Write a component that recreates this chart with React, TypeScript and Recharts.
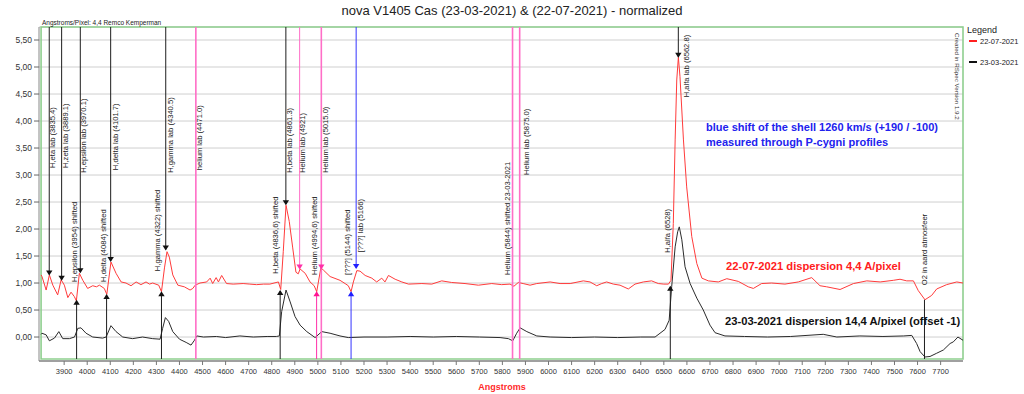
import React from 'react';
import {
  LineChart,
  Line,
  XAxis,
  YAxis,
  CartesianGrid,
  ReferenceLine,
  ReferenceDot,
  ReferenceArea,
} from 'recharts';

// ---------- data ----------
const RED_WL = [
  3800, 3804, 3822, 3836, 3851, 3872, 3887, 3901, 3916, 3930, 3944, 3953, 3966, 3981, 4002, 4024, 4040, 4053,
  4074, 4085, 4103, 4125, 4147, 4168, 4190, 4212, 4233, 4255, 4270, 4284, 4310, 4322, 4335, 4346, 4356, 4371,
  4393, 4421, 4446, 4458, 4468, 4489, 4518, 4533, 4544, 4559, 4569, 4583, 4604, 4633, 4676, 4705, 4734, 4765,
  4792, 4829, 4839, 4850, 4862, 4876, 4891, 4905, 4915, 4923, 4945, 4966, 4984, 4995, 5013, 5024, 5053, 5096,
  5118, 5132, 5144, 5154, 5169, 5183, 5205, 5234, 5255, 5277, 5291, 5306, 5335, 5364, 5393, 5451, 5494, 5537,
  5580, 5638, 5696, 5754, 5797, 5833, 5850, 5869, 5890, 5920, 5949, 6007, 6050, 6094, 6151, 6180, 6209, 6231,
  6252, 6281, 6310, 6346, 6375, 6411, 6447, 6476, 6500, 6520, 6531, 6541, 6549, 6556, 6563, 6570, 6585, 6599,
  6621, 6643, 6665, 6693, 6736, 6773, 6823, 6866, 6888, 6924, 6967, 7025, 7083, 7141, 7177, 7206, 7264, 7322,
  7380, 7438, 7495, 7524, 7553, 7582, 7603, 7632, 7661, 7683, 7726, 7770, 7797,
];
const RED_VAL = [
  1.15, 1.12, 0.87, 1.15, 0.96, 0.78, 1.06, 0.96, 0.73, 0.83, 0.75, 0.67, 1.18, 1.05, 0.9, 0.95, 0.93, 0.96,
  0.9, 0.79, 1.39, 1.18, 1.02, 1.0, 0.95, 1.02, 0.97, 1.02, 0.98, 1.0, 0.96, 0.84, 1.28, 1.58, 1.48, 1.15,
  0.96, 0.93, 0.87, 0.9, 0.96, 1.0, 1.02, 1.09, 0.99, 1.1, 1.02, 1.14, 0.99, 0.98, 0.99, 0.98, 0.97, 0.98,
  0.98, 1.02, 0.88, 1.58, 2.44, 2.14, 1.65, 1.2, 1.17, 1.26, 1.18, 1.02, 0.95, 0.84, 1.28, 1.24, 1.12, 1.05,
  0.99, 0.95, 0.84, 1.02, 1.23, 1.22, 1.14, 1.09, 1.02, 1.09, 1.02, 1.14, 1.07, 1.02, 0.98, 0.99, 0.98, 1.04,
  1.01, 0.99, 0.96, 0.99, 0.97, 0.98, 0.94, 1.01, 0.99, 0.96, 0.99, 1.02, 0.99, 0.99, 1.04, 1.02, 0.95, 0.99,
  1.02, 0.98, 0.96, 0.89, 0.98, 1.02, 1.04, 0.99, 0.98, 0.98, 1.05, 2.1, 3.65, 4.76, 5.18, 4.82, 3.65, 2.78,
  1.86, 1.36, 1.09, 1.04, 1.02, 1.08, 1.03, 0.93, 0.9, 0.99, 1.0, 0.98, 1.02, 1.1, 0.95, 0.93, 0.88, 0.99,
  1.04, 1.02, 1.05, 1.07, 1.04, 1.04, 0.86, 0.69, 0.77, 0.89, 0.97, 1.02, 1.0,
];

const BLACK_WL = [
  3800, 3804, 3822, 3836, 3858, 3877, 3894, 3923, 3945, 3959, 3973, 3995, 4024, 4067, 4082, 4103, 4125, 4154,
  4197, 4240, 4284, 4316, 4327, 4339, 4353, 4371, 4400, 4429, 4450, 4465, 4475, 4504, 4560, 4600, 4662, 4720,
  4780, 4820, 4833, 4843, 4862, 4880, 4901, 4923, 4952, 4988, 5017, 5053, 5096, 5132, 5200, 5300, 5400, 5500,
  5600, 5700, 5790, 5826, 5845, 5862, 5877, 5906, 5949, 6007, 6100, 6200, 6300, 6400, 6462, 6505, 6523, 6534,
  6549, 6560, 6567, 6578, 6592, 6614, 6643, 6671, 6700, 6722, 6765, 6850, 6950, 7050, 7191, 7250, 7350, 7450,
  7540, 7575, 7596, 7611, 7632, 7654, 7683, 7712, 7741, 7755, 7775, 7797,
];
const BLACK_VAL = [
  0.05, 0.07, 0.04, -0.07, -0.02, 0.1, -0.03, -0.03, 0.0, 0.16, 0.17, 0.07, 0.0, -0.02, 0.0, 0.21, 0.1, 0.0,
  -0.03, 0.0, -0.03, -0.04, 0.16, 0.36, 0.29, 0.1, -0.04, -0.1, -0.15, -0.06, 0.02, 0.0, 0.01, -0.01, 0.02, 0.0,
  0.01, 0.01, 0.02, 0.47, 0.87, 0.65, 0.38, 0.22, 0.1, -0.01, 0.1, 0.07, 0.02, -0.01, 0.0, 0.0, 0.01, 0.0,
  0.01, 0.0, -0.01, -0.03, -0.07, 0.07, 0.17, 0.1, 0.02, 0.0, -0.01, 0.0, -0.01, 0.0, 0.0, 0.14, 0.31, 0.93,
  1.67, 1.95, 2.04, 1.8, 1.3, 0.99, 0.72, 0.5, 0.22, 0.08, 0.02, 0.01, 0.0, 0.01, 0.05, 0.0, 0.02, 0.01,
  0.02, 0.03, -0.12, -0.27, -0.37, -0.36, -0.3, -0.24, -0.12, -0.09, 0.0, -0.06,
];

const X_TICKS = [
  3900, 4000, 4100, 4200, 4300, 4400, 4500, 4600, 4700, 4800, 4900, 5000, 5100, 5200, 5300, 5400, 5500, 5600,
  5700, 5800, 5900, 6000, 6100, 6200, 6300, 6400, 6500, 6600, 6700, 6800, 6900, 7000, 7100, 7200, 7300, 7400,
  7500, 7600, 7700,
];
const Y_TICKS = [0, 0.5, 1, 1.5, 2, 2.5, 3, 3.5, 4, 4.5, 5, 5.5];

// annotation lines: wavelength, text, colour, kind, value of curve where arrow ends
const ANNOTATIONS = [
  { wl: 3835.4, text: 'H,eta lab (3835.4)', color: 'black', kind: 'lab', tip: 1.16 },
  { wl: 3889.1, text: 'H,zeta lab (3889.1)', color: 'black', kind: 'lab', tip: 1.06 },
  { wl: 3970.1, text: 'H,epsilon lab (3970.1)', color: 'black', kind: 'lab', tip: 1.2 },
  { wl: 4101.7, text: 'H,delta lab (4101.7)', color: 'black', kind: 'lab', tip: 1.41 },
  { wl: 4340.5, text: 'H,gamma lab (4340.5)', color: 'black', kind: 'lab', tip: 1.62 },
  { wl: 4471.0, text: 'helium lab (4471.0)', color: 'pink', kind: 'full', tip: null },
  { wl: 4861.3, text: 'H,beta lab (4861.3)', color: 'black', kind: 'lab', tip: 2.46 },
  { wl: 4921, text: 'Helium lab (4921)', color: 'pink', kind: 'lab', tip: 1.27 },
  { wl: 5015.0, text: 'Helium lab (5015.0)', color: 'pink', kind: 'fullDown', tip: 1.27 },
  { wl: 5166, text: '[???] lab (5166)', color: 'blue', kind: 'lab', tip: 1.28 },
  { wl: 5875.0, text: 'Helium lab (5875.0)', color: 'pink', kind: 'full', tip: null },
  { wl: 6562.8, text: 'H,alfa lab (6562.8)', color: 'black', kind: 'lab', tip: 5.19 },
  { wl: 3954, text: 'H,epsilon (3954) shifted', color: 'black', kind: 'shift', tip: 0.67 },
  { wl: 4084, text: 'H,delta (4084) shifted', color: 'black', kind: 'shift', tip: 0.78 },
  { wl: 4322, text: 'H,gamma (4322) shifted', color: 'black', kind: 'shift', tip: 0.83 },
  { wl: 4836.6, text: 'H,beta (4836,6) shifted', color: 'black', kind: 'shift', tip: 0.85 },
  { wl: 4994.6, text: 'Helium (4994,6) shifted', color: 'magenta', kind: 'shift', tip: 0.83 },
  { wl: 5144, text: '[???] (5144) shifted', color: 'blue', kind: 'shift', tip: 0.83 },
  { wl: 5844, text: 'Helium (5844) shifted 23-03-2021', color: 'pink', kind: 'full', tip: null },
  { wl: 6528, text: 'H,alfa (6528)', color: 'black', kind: 'shift', tip: 0.93 },
  { wl: 7630, text: 'O2 in aard atmosfeer', color: 'black', kind: 'bare', tip: 0.69 },
];
// label placement (value where text starts, horizontal offset in px), same order as ANNOTATIONS
const LABEL_LAYOUT = [
  [3.13, 6], [3.13, 6], [3.04, 6], [3.09, 7], [3.04, 7], [3.09, 6], [3.04, 6], [3.04, 5], [3.04, 7],
  [1.57, 7], [3.0, 9], [4.44, 11],
  [1.02, 0], [1.02, -1], [1.22, -1], [1.17, -2], [1.15, 0], [1.15, -1], [1.15, -3], [1.56, 0], [0.96, 2.5],
];

// ---------- layout ----------
const FONT = '"Liberation Sans", Arial, Helvetica, sans-serif';
const X_DOMAIN: [number, number] = [3791, 7797];
const Y_DOMAIN: [number, number] = [-0.444, 5.741];
const BORDER_LEFT = 3800;
const BORDER_BOTTOM = -0.407;

const COLORS: Record<string, string> = {
  black: '#1e1e1e',
  pink: '#ff6ec7',
  magenta: '#ff2fa8',
  blue: '#3434ff',
};
const TRI_COLORS: Record<string, string> = {
  black: '#111',
  pink: '#ff2fa8',
  magenta: '#ff1493',
  blue: '#2020ff',
};

const RED_DATA = RED_WL.map((wl, i) => ({ wl, v: RED_VAL[i] }));
const BLACK_DATA = BLACK_WL.map((wl, i) => ({ wl, v: BLACK_VAL[i] }));

const fmtY = (v: number) => v.toFixed(2).replace('.', ',');

function triangle(dir: 'up' | 'down', color: string) {
  return (p: any) => {
    const { cx, cy } = p;
    if (cx == null || cy == null) return <g />;
    const w = 3.2;
    const h = 5;
    const d =
      dir === 'down'
        ? `M${cx - w},${cy - h + 1} L${cx + w},${cy - h + 1} L${cx},${cy + 1} Z`
        : `M${cx - w},${cy + h - 1} L${cx + w},${cy + h - 1} L${cx},${cy - 1} Z`;
    return <path d={d} fill={color} stroke="none" />;
  };
}

function vLabel(text: string, dx: number) {
  return (p: any) => {
    const { cx, cy } = p;
    if (cx == null || cy == null) return <g />;
    const x = cx + dx;
    return (
      <text
        x={x}
        y={cy}
        transform={`rotate(-90 ${x} ${cy})`}
        fontSize={7.6}
        fontFamily={FONT}
        fill="#222"
        textAnchor="start"
      >
        {text}
      </text>
    );
  };
}

export default function App() {
  return (
    <div style={{ position: 'absolute', left: 0, top: 0, width: 1024, height: 394, background: '#fff' }}>
      <LineChart width={1024} height={394} margin={{ top: 27, right: 61, left: 0, bottom: 0 }}>
        <CartesianGrid horizontal vertical={false} stroke="#cfcfcf" />
        <XAxis
          type="number"
          dataKey="wl"
          domain={X_DOMAIN}
          allowDataOverflow
          ticks={X_TICKS}
          interval={0}
          height={33}
          tickSize={4}
          tickMargin={4}
          tick={{ fontSize: 7.5, fill: '#333', fontFamily: FONT }}
          axisLine={{ stroke: '#a0a0a0', strokeWidth: 2 }}
          tickLine={{ stroke: '#777' }}
        />
        <YAxis
          type="number"
          domain={Y_DOMAIN}
          allowDataOverflow
          ticks={Y_TICKS}
          interval={0}
          width={39}
          tickSize={5}
          tickMargin={2}
          tickFormatter={fmtY}
          tick={{ fontSize: 8.5, fill: '#333', fontFamily: FONT }}
          axisLine={{ stroke: '#888' }}
          tickLine={{ stroke: '#666' }}
        />
        <ReferenceArea
          x1={BORDER_LEFT}
          x2={X_DOMAIN[1]}
          y1={BORDER_BOTTOM}
          y2={Y_DOMAIN[1]}
          fill="none"
          fillOpacity={0}
          stroke="#8fcf8f"
          strokeWidth={1.6}
          ifOverflow="visible"
        />
        <Line
          data={BLACK_DATA}
          dataKey="v"
          type="linear"
          stroke="#2b2b2b"
          strokeWidth={1}
          dot={false}
          isAnimationActive={false}
          name="23-03-2021"
        />
        <Line
          data={RED_DATA}
          dataKey="v"
          type="linear"
          stroke="#ff3b3b"
          strokeWidth={1}
          dot={false}
          isAnimationActive={false}
          name="22-07-2021"
        />
        {ANNOTATIONS.map((a, i) => {
          const top = Y_DOMAIN[1];
          const bot = BORDER_BOTTOM;
          let y1 = top;
          let y2 = bot;
          if (a.kind === 'lab') {
            y1 = top;
            y2 = a.tip as number;
          } else if (a.kind === 'shift' || a.kind === 'bare') {
            y1 = bot;
            y2 = a.tip as number;
          }
          const full = a.kind === 'full' || a.kind === 'fullDown';
          return (
            <ReferenceLine
              key={'l' + i}
              segment={[
                { x: a.wl, y: y1 },
                { x: a.wl, y: y2 },
              ]}
              stroke={COLORS[a.color]}
              strokeWidth={full ? 1.6 : 1}
              ifOverflow="visible"
            />
          );
        })}
        {ANNOTATIONS.map((a, i) => {
          if (a.tip == null || a.kind === 'bare') return null;
          const dir = a.kind === 'shift' ? 'up' : 'down';
          return (
            <ReferenceDot
              key={'t' + i}
              x={a.wl}
              y={a.tip}
              r={3}
              ifOverflow="visible"
              shape={triangle(dir, TRI_COLORS[a.color])}
            />
          );
        })}
        {ANNOTATIONS.map((a, i) => (
          <ReferenceDot
            key={'x' + i}
            x={a.wl}
            y={LABEL_LAYOUT[i][0]}
            r={1}
            ifOverflow="visible"
            shape={vLabel(a.text, LABEL_LAYOUT[i][1])}
          />
        ))}
      </LineChart>
      <svg
        width={1024}
        height={394}
        style={{ position: 'absolute', left: 0, top: 0, pointerEvents: 'none' }}
        fontFamily={FONT}
      >
        <text x={512} y={15} textAnchor="middle" fontSize={13} fill="#222">
          nova V1405 Cas (23-03-2021) &amp; (22-07-2021) - normalized
        </text>
        <text x={42} y={25} fontSize={6.5} fill="#222">
          Angstroms/Pixel: 4,4 Remco Kemperman
        </text>
        <text x={967} y={33} fontSize={9} fill="#222">
          Legend
        </text>
        <line x1={969} x2={977} y1={41} y2={41} stroke="#ff2020" strokeWidth={2} />
        <text x={980} y={44} fontSize={7.5} fill="#222">
          22-07-2021
        </text>
        <line x1={969} x2={977} y1={62} y2={62} stroke="#111" strokeWidth={2} />
        <text x={980} y={65} fontSize={7.5} fill="#222">
          23-03-2021
        </text>
        <text x={955} y={33} transform="rotate(90 955 33)" fontSize={6.2} fill="#333">
          Created in RSpec Version 1.9.2
        </text>
        <text x={706} y={131} fontSize={11} fontWeight="bold" fill="#2222ee">
          blue shift of the shell 1260 km/s (+190 / -100)
        </text>
        <text x={706} y={146} fontSize={11} fontWeight="bold" fill="#2222ee">
          measured through P-cygni profiles
        </text>
        <text x={726} y={270} fontSize={11.2} fontWeight="bold" fill="#ff2020">
          22-07-2021 dispersion 4,4 A/pixel
        </text>
        <text x={725} y={325} fontSize={11.2} fontWeight="bold" fill="#111">
          23-03-2021 dispersion 14,4 A/pixel (offset -1)
        </text>
        <text x={502} y={390} textAnchor="middle" fontSize={9} fontWeight="bold" fill="#ff2a2a">
          Angstroms
        </text>
      </svg>
    </div>
  );
}
